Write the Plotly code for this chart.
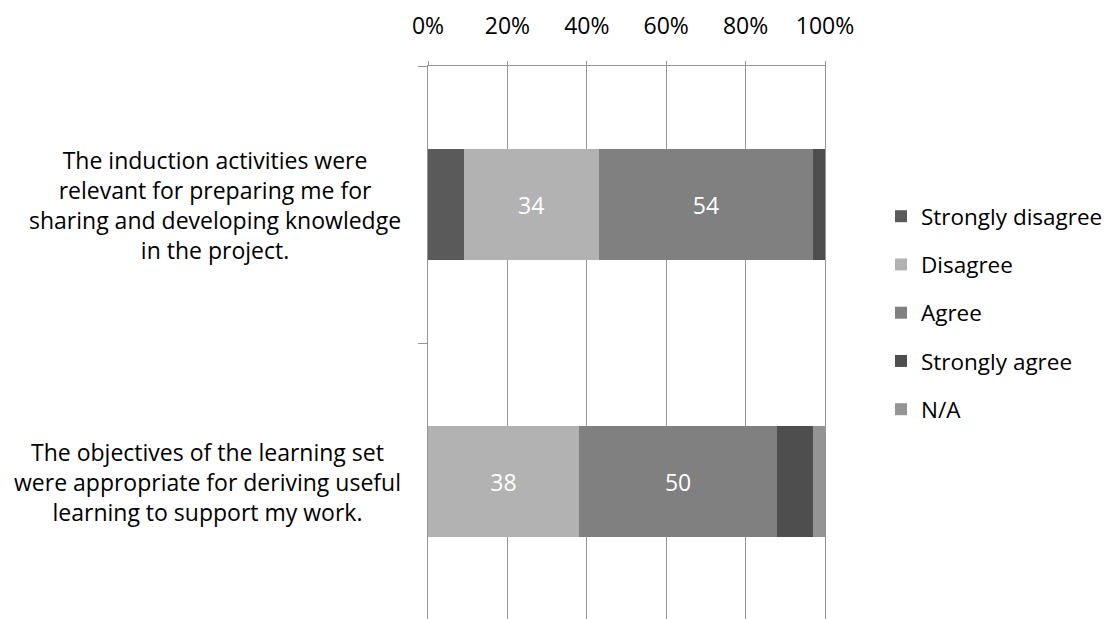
import plotly.graph_objects as go

categories = [
    "The induction activities were relevant for preparing me for sharing and developing knowledge in the project.",
    "The objectives of the learning set were appropriate for deriving useful learning to support my work.",
]
category_lines = [
    ["The induction activities were", "relevant for preparing me for",
     "sharing and developing knowledge", "in the project."],
    ["The objectives of the learning set", "were appropriate for deriving useful",
     "learning to support my work."],
]
series_names = ["Strongly disagree", "Disagree", "Agree", "Strongly agree", "N/A"]
strongly_disagree = [9, 0]
disagree = [34, 38]
agree = [54, 50]
strongly_agree = [3, 9]
not_applicable = [0, 3]
series_values = [strongly_disagree, disagree, agree, strongly_agree, not_applicable]
labelled = [False, True, True, False, False]
colors = ["#5a5a5a", "#b2b2b2", "#808080", "#4e4e4e", "#949494"]
tick_values = [0, 20, 40, 60, 80, 100]

FONT = "Open Sans"
GRID = "#959595"
fig = go.Figure()
for i, (name, vals) in enumerate(zip(series_names, series_values)):
    fig.add_trace(go.Bar(
        y=categories, x=vals, name=name, orientation="h",
        marker=dict(color=colors[i], line=dict(width=0)),
        text=[str(v) for v in vals] if labelled[i] else None,
        textposition="inside", insidetextanchor="middle",
        textfont=dict(color="white", size=23, family=FONT),
        legendgroup=name, hoverinfo="x+name",
    ))

annotations = []
for cat, lines in zip(categories, category_lines):
    annotations.append(dict(
        x=-0.064, xref="paper", y=cat, yref="y",
        text="<br>".join(lines), showarrow=False,
        xanchor="right", yanchor="middle", align="center",
        font=dict(family=FONT, size=23, color="#000000"),
    ))

fig.update_layout(
    barmode="stack", bargap=0.6,
    width=1110, height=619,
    margin=dict(l=420, r=293, t=58, b=7),
    paper_bgcolor="white", plot_bgcolor="white",
    font=dict(family=FONT, size=22, color="#000000"),
    showlegend=True,
    legend=dict(x=1.141, xanchor="left", y=0.554, yanchor="middle",
                traceorder="grouped", tracegroupgap=16,
                font=dict(family=FONT, size=22.5, color="#000000"),
                itemclick=False, itemdoubleclick=False),
    annotations=annotations,
    xaxis=dict(side="top", range=[0, 100], tickvals=tick_values,
               ticktext=[f"{v}%" for v in tick_values],
               showgrid=True, gridcolor=GRID, gridwidth=1.3,
               showline=True, linecolor=GRID, linewidth=1.3,
               ticks="outside", ticklen=4, tickcolor=GRID, tickwidth=1.3,
               ticklabelstandoff=18, zeroline=False, automargin=False,
               tickfont=dict(family=FONT, size=23, color="#000000")),
    yaxis=dict(autorange="reversed", showticklabels=False,
               tickson="boundaries", ticks="outside", ticklen=9,
               tickcolor=GRID, tickwidth=1.3, showgrid=False,
               showline=True, mirror=True, linecolor=GRID, linewidth=1.3,
               zeroline=False, automargin=False),
)
fig.write_html("out.html")
